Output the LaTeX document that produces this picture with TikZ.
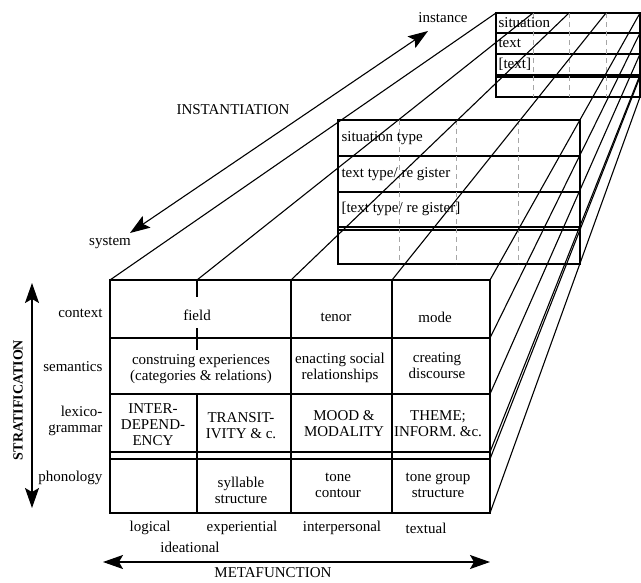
\documentclass[tikz,border=0pt]{standalone}
\usepackage{fontspec}
\setmainfont{Liberation Serif}
\usetikzlibrary{arrows.meta}

\begin{document}
\begin{tikzpicture}
  [x=1pt,y=-1pt,line width=1.1pt,
   every node/.style={font=\fontsize{15}{16}\selectfont,align=center,inner sep=1pt},
   gridcol/.style={gray!70,line width=.9pt,dash pattern=on 5pt off 4pt},
   bothways/.style={{Stealth[length=20pt,width=14pt,inset=4pt]}-{Stealth[length=20pt,width=14pt,inset=4pt]}}]
  \useasboundingbox (0,0) rectangle (641,582);

  % instance box
  \draw (496,13) rectangle (640,97);
  \foreach \y in {33,54,75,77} \draw (496,\y) -- (640,\y);
  \foreach \x in {533,569,606} \draw[gridcol] (\x,13) -- (\x,97);
  \node[anchor=west] (sit) at (497,23) {situation};
  \node[anchor=west] (txt) at (497,43) {text};
  \node[anchor=west] (txtb) at (497,64) {[text]};

  % register box
  \draw (338,120) rectangle (580,264);
  \foreach \y in {156,192,227,230} \draw (338,\y) -- (580,\y);
  \foreach \x in {399,456,518} \draw[gridcol] (\x,120) -- (\x,264);
  \node[anchor=west] (sittype) at (340,138) {situation type};
  \node[anchor=west] (txttype) at (340,174) {text type/ re gister};
  \node[anchor=west] (txttypeb) at (340,209) {[text type/ re gister]};

  % depth lines
  \foreach \from/\to in {110/496,197/533,291/569,392/606}
    \draw (\from,280) -- (\to,13);
  \foreach \from/\to in {280/13,338/33,394/54,452/75,459/77,513/97}
    \draw (490,\from) -- (640,\to);

  % front block
  \draw (110,280) rectangle (490,513);
  \foreach \y in {338,394,452,459} \draw (110,\y) -- (490,\y);
  \foreach \x in {291,392} \draw (\x,280) -- (\x,513);
  \foreach \from/\to in {280/297,328/350,393/513} \draw (197,\from) -- (197,\to);

  \node (field) at (197,315) {field};
  \node (tenor) at (336,317) {tenor};
  \node (mode) at (435,317) {mode};
  \node (constr) at (201,369) {construing experiences\\(categories \& relations)};
  \node (enact) at (340,368) {enacting social\\relationships};
  \node (creat) at (437,366) {creating\\discourse};
  \node (interdep) at (153,425) {INTER-\\DEPEND-\\ENCY};
  \node (transit) at (241,426) {TRANSIT-\\IVITY \& c.};
  \node (mood) at (344,424) {MOOD \&\\MODALITY};
  \node (theme) at (438,424) {THEME;\\INFORM. \&c.};
  \node (syll) at (241,490) {syllable\\structure};
  \node (tonec) at (338,485) {tone\\contour};
  \node (toneg) at (438,485) {tone group\\structure};

  % strata
  \node[anchor=east] (ctx) at (104,313) {context};
  \node[anchor=east] (sem) at (104,367) {semantics};
  \node[anchor=east,align=right] (lex) at (104,421) {lexico-\\grammar};
  \node[anchor=east] (phon) at (104,478) {phonology};
  \node[rotate=90,font=\fontsize{14}{14}\selectfont\bfseries] (strat) at (18,400) {STRATIFICATION};
  \coordinate (strattop) at (32,283);
  \coordinate (stratbot) at (32,508);
  \draw[bothways] (strattop) -- (stratbot);

  % metafunctions
  \node (logic) at (150,528) {logical};
  \node (exper) at (242,528) {experiential};
  \node (inter) at (342,528) {interpersonal};
  \node (textual) at (426,528) {textual};
  \node (ideat) at (190,547) {ideational};
  \coordinate (mfleft) at (103,562);
  \coordinate (mfright) at (490,562);
  \draw[bothways] (mfleft) -- (mfright);
  \node[inner sep=0pt] (metaf) at (273,573) {METAFUNCTION};

  % instantiation
  \coordinate (sysend) at (130,233);
  \coordinate (instend) at (428,31);
  \draw[bothways] (sysend) -- (instend);
  \node (system) at (110,243) {system};
  \node (instance) at (443,18) {instance};
  \node (instant) at (233,110) {INSTANTIATION};

\end{tikzpicture}
\end{document}
